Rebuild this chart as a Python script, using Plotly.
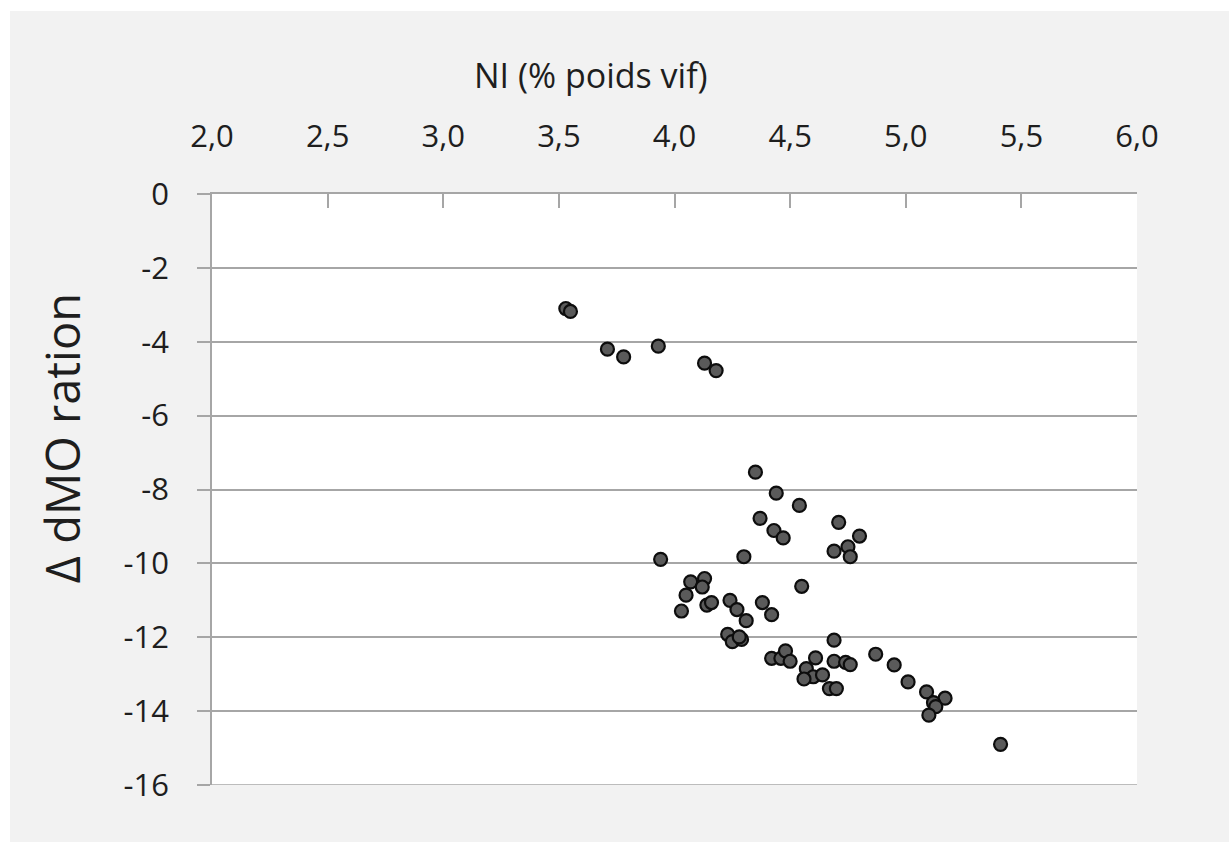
import plotly.graph_objects as go

# NI (% live weight) vs change in ration organic-matter digestibility
ni = [3.53, 3.55, 3.71, 3.78, 3.93, 4.13, 4.18,
      4.35, 4.44, 4.54, 4.37, 4.43, 4.47, 4.71, 4.80, 4.75, 4.69, 4.76,
      3.94, 4.30, 4.55, 4.07, 4.13, 4.12,
      4.05, 4.03, 4.14, 4.16, 4.24, 4.27, 4.31, 4.38, 4.42, 4.23, 4.25,
      4.29, 4.28, 4.69, 4.42, 4.46, 4.48, 4.50, 4.61, 4.69, 4.74, 4.76,
      4.87, 4.95, 4.57, 4.60, 4.64, 4.56, 4.67, 4.70,
      5.01, 5.09, 5.17, 5.12, 5.13, 5.10, 5.41]
dmo = [-3.10, -3.18, -4.20, -4.41, -4.12, -4.58, -4.78,
       -7.53, -8.10, -8.43, -8.78, -9.11, -9.31, -8.89, -9.26, -9.55, -9.67, -9.82,
       -9.89, -9.82, -10.62, -10.50, -10.41, -10.64,
       -10.86, -11.29, -11.13, -11.06, -11.00, -11.25, -11.55, -11.06, -11.39, -11.92, -12.12,
       -12.06, -11.99, -12.08, -12.57, -12.57, -12.37, -12.65, -12.56, -12.65, -12.68, -12.74,
       -12.46, -12.75, -12.85, -13.07, -13.02, -13.13, -13.39, -13.39,
       -13.21, -13.48, -13.65, -13.77, -13.88, -14.11, -14.90]

x_ticks = [2.0, 2.5, 3.0, 3.5, 4.0, 4.5, 5.0, 5.5, 6.0]
x_labels = ["2,0", "2,5", "3,0", "3,5", "4,0", "4,5", "5,0", "5,5", "6,0"]
y_ticks = [0, -2, -4, -6, -8, -10, -12, -14, -16]
y_labels = ["0", "-2", "-4", "-6", "-8", "-10", "-12", "-14", "-16"]

FONT = "Open Sans"
TXT = "#1e1e1e"
AXC = "#a6a6a6"

fig = go.Figure(go.Scatter(
    x=ni, y=dmo, mode="markers",
    marker=dict(size=13, color="#5a5a5a", line=dict(color="#0d0d0d", width=2.2)),
    showlegend=False,
))

fig.update_layout(
    width=1229, height=842,
    margin=dict(l=212, r=92, t=194, b=57),
    paper_bgcolor="#f2f2f2",
    plot_bgcolor="white",
    font=dict(family=FONT, color=TXT),
    xaxis=dict(
        side="top", range=[2, 6], tickvals=x_ticks, ticktext=x_labels,
        ticks="inside", ticklen=14, tickwidth=1.5, tickcolor=AXC,
        showline=True, linecolor=AXC, linewidth=1.5,
        showgrid=False, zeroline=False,
        tickfont=dict(size=31, color=TXT), ticklabelstandoff=33,
    ),
    yaxis=dict(
        range=[-16, 0], tickvals=y_ticks, ticktext=y_labels,
        ticks="outside", ticklen=13, tickwidth=1.5, tickcolor=AXC,
        showline=True, linecolor=AXC, linewidth=1.5,
        showgrid=True, gridcolor=AXC, gridwidth=1.5, zeroline=False,
        tickfont=dict(size=31, color=TXT), ticklabelstandoff=22,
    ),
    shapes=[
        # white page border around the grey chart panel
        dict(type="rect", xref="paper", yref="paper", x0=-0.26, x1=-0.2184,
             y0=-0.2, y1=1.4, fillcolor="white", line_width=0, layer="below"),
        dict(type="rect", xref="paper", yref="paper", x0=-0.26, x1=1.2,
             y0=1.3097, y1=1.4, fillcolor="white", line_width=0, layer="below"),
        # bottom gridline at -16
        dict(type="line", xref="paper", yref="y", x0=0, x1=1, y0=-16, y1=-16,
             line=dict(color=AXC, width=1.5)),
    ],
    annotations=[
        dict(text="NI (% poids vif)", xref="paper", yref="paper",
             x=0.41, y=1.201, showarrow=False, xanchor="center", yanchor="middle",
             font=dict(size=34, color=TXT, family=FONT)),
        dict(text="Δ dMO ration", xref="paper", yref="paper",
             x=-0.162, y=0.587, showarrow=False, textangle=-90,
             xanchor="center", yanchor="middle",
             font=dict(size=47, color=TXT, family=FONT)),
    ],
)

fig.write_html("out.html")
